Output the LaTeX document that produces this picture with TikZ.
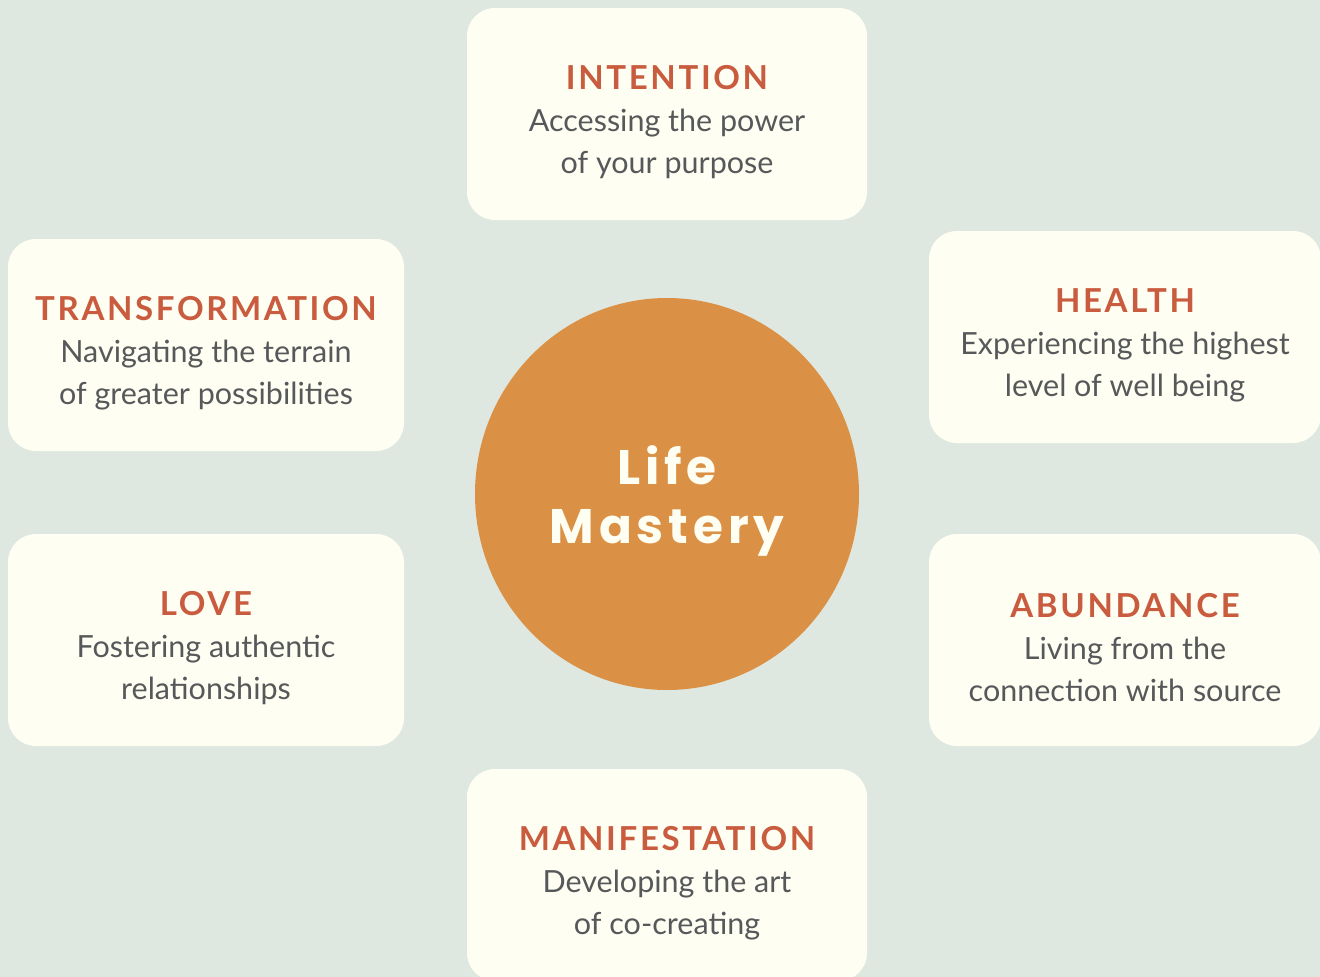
\documentclass[tikz,border=0pt]{standalone}
\usepackage{fontspec}
\setmainfont{Lato}
\newfontfamily\titlefont[LetterSpace=8]{Lato}
\newfontfamily\lifefont[LetterSpace=10]{Poppins}
\usepackage{tikz}
\usetikzlibrary{positioning, shapes.geometric}
\definecolor{sage}{HTML}{DFE8E0}
\definecolor{cream}{HTML}{FEFEF2}
\definecolor{ochre}{HTML}{DB9145}
\definecolor{rust}{HTML}{C95B3E}
\definecolor{slate}{HTML}{56585A}
\newcommand{\head}[1]{{\rule{0pt}{40pt}\titlefont\bfseries\fontsize{33}{42}\selectfont\color{rust}#1}}

\begin{document}
\begin{tikzpicture}[x=1pt, y=1pt, node distance=380pt, on grid,
		area/.style={fill=cream, rounded corners=28pt, minimum width=400pt, minimum height=212pt, align=center, text=slate, font=\fontsize{30.5}{42}\selectfont},
		hub/.style={ellipse, fill=ochre, minimum width=384pt, minimum height=392pt, align=center, text=cream, font=\lifefont\bfseries\fontsize{48.5}{59}\selectfont}]
	\useasboundingbox (0,0) rectangle (1320,-977);
	\clip (0,0) rectangle (1320,-977);
	\fill[sage] (0,0) rectangle (1320,-977);
	\node[hub] (life) at (667,-494) {\rule{0pt}{52pt}Life\\Mastery};
	\node[area] (intention) [above=of life] {\head{INTENTION}\\Accessing the power\\of your purpose};
	\node[area] (manifest) [below=381pt of life] {\head{MANIFESTATION}\\Developing the art\\of co-creating};
	\node[area, minimum width=392pt] (health) [above right=157pt and 458pt of life] {\head{HEALTH}\\Experiencing the highest\\level of well being};
	\node[area, minimum width=392pt] (abundance) [below right=146pt and 458pt of life] {\head{ABUNDANCE}\\Living from the\\connection with source};
	\node[area, minimum width=396pt] (transform) [above left=149pt and 461pt of life] {\head{TRANSFORMATION}\\Navigating the terrain\\of greater possibilities};
	\node[area, minimum width=396pt] (love) [below left=146pt and 461pt of life] {\head{LOVE}\\Fostering authentic\\relationships};
\end{tikzpicture}
\end{document}
